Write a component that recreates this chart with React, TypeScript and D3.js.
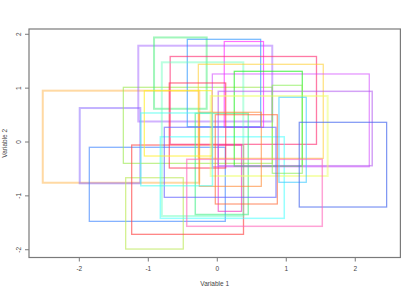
import React from "react";
import * as d3 from "d3";

const rectIds = ["A","B","C","D","E","F","G","H","I","J","K","L","M","N","O","P","Q","R","S","T","U","V","W","X","Y","Z","AA","AB","BB","CC"];
const xLeft =   [-2.530,-1.994,-1.855,-1.328,-1.362,-1.241,-1.145,-0.917,-0.435, 0.101,-0.683,-0.804,-0.826,-0.319, 0.014,-0.275,-0.072, 0.246,-0.696, 0.014,-0.096, 0.797, 0.894, 1.188,-0.029,-0.261,-0.768,-0.443,-1.058,-1.109];
const xRight =  [-0.261,-1.116, 0.116,-0.493, 0.797, 0.380, 0.797,-0.154, 0.629, 0.670, 1.438, 0.377, 0.971, 0.449, 0.351, 1.536, 2.203, 1.232, 0.122, 2.246, 1.600, 1.232, 1.290, 2.455, 0.870, 0.638, 0.851, 1.522,-0.077,-0.070];
const yBottom = [-0.756,-0.767,-1.473,-1.987,-0.396,-1.714, 0.381, 0.617, 0.284, 0.273,-0.043,-1.374,-1.417,-1.346,-1.287,-0.303,-0.459,-0.446,-0.483,-0.440,-0.631,-0.581,-0.748,-1.207,-1.151,-0.823,-1.027,-1.565,-0.260,-0.812];
const yTop =    [ 0.953, 0.631,-0.098,-0.663, 1.016,-0.056, 1.788, 1.941, 1.907, 1.866, 1.588, 1.480, 0.097, 0.533,-0.056, 1.443, 1.263, 1.313, 1.096, 0.941, 0.854, 1.053, 0.830, 0.366, 0.507, 0.552, 0.273,-0.321, 0.953, 0.539];

const strokeColors = ["#FFB347","#8866FF","#4488FF","#BBE855","#99E84C","#FF4444","#9955FF","#44EE77","#3399FF","#FF22FF","#FF3377","#66FFBB","#44FFFF","#44EE88","#EE33BB","#FFCC22","#D044FF","#22EE22","#FF3355","#B055EE","#EEFF66","#88EE55","#44CCFF","#4466EE","#FF6633","#FF8833","#6666FF","#FF66BB","#FFEE22","#44FFEE"];
const strokeOpacity = [0.5,0.5,0.65,0.65,0.65,0.65,0.45,0.5,0.7,0.65,0.65,0.45,0.55,0.6,0.65,0.6,0.6,0.7,0.7,0.55,0.5,0.65,0.65,0.7,0.65,0.65,0.65,0.6,0.7,0.55];
const strokeWidths = [2,2,1.3,1.3,1.2,1.3,2,2,1.2,1.2,1.3,2,1.5,1.5,1.2,1.2,1.2,1.2,1.2,1.5,2,1.2,1.3,1.2,1.2,1.2,1.3,1.5,1.2,1.5];

const xTicks = [-2, -1, 0, 1, 2];
const yTicks = [-2, -1, 0, 1, 2];
const xLabel = "Variable 1";
const yLabel = "Variable 2";

const W = 415, H = 294;
const plot = { left: 29, right: 400.4, top: 29, bottom: 257.5 };

export default function App() {
  const xmin = d3.min(xLeft)!, xmax = d3.max(xRight)!;
  const ymin = d3.min(yBottom)!, ymax = d3.max(yTop)!;
  const xe = (xmax - xmin) * 0.04, ye = (ymax - ymin) * 0.04;
  const x = d3.scaleLinear().domain([xmin - xe, xmax + xe]).range([plot.left, plot.right]);
  const y = d3.scaleLinear().domain([ymin - ye, ymax + ye]).range([plot.bottom, plot.top]);
  const font = "'Liberation Sans', Arial, Helvetica, sans-serif";
  const textColor = "#444";
  const axisColor = "#7a7a7a";
  const cx = (plot.left + plot.right) / 2;
  const cy = (plot.top + plot.bottom) / 2;
  return (
    <svg width={W} height={H} style={{ position: "absolute", left: 0, top: 0, background: "#fff" }}>
      <g>
        {rectIds.map((id, i) => (
          <rect key={id}
            x={x(xLeft[i])} y={y(yTop[i])}
            width={x(xRight[i]) - x(xLeft[i])} height={y(yBottom[i]) - y(yTop[i])}
            fill="none" stroke={strokeColors[i]} strokeOpacity={strokeOpacity[i]} strokeWidth={strokeWidths[i]} />
        ))}
      </g>
      <rect x={plot.left} y={plot.top} width={plot.right - plot.left} height={plot.bottom - plot.top}
        fill="none" stroke={axisColor} strokeWidth={1.2} />
      {xTicks.map(t => (
        <g key={"x" + t}>
          <line x1={x(t)} x2={x(t)} y1={plot.bottom} y2={plot.bottom + 4} stroke={axisColor} strokeWidth={1} />
          <text x={x(t)} y={plot.bottom + 13.5} textAnchor="middle" fontSize={6.5} fontFamily={font} fill={textColor}>{String(t)}</text>
        </g>
      ))}
      {yTicks.map(t => (
        <g key={"y" + t}>
          <line x1={plot.left - 4} x2={plot.left} y1={y(t)} y2={y(t)} stroke={axisColor} strokeWidth={1} />
          <text transform={`translate(${plot.left - 8.5},${y(t)}) rotate(-90)`} textAnchor="middle" fontSize={6.5} fontFamily={font} fill={textColor}>{String(t)}</text>
        </g>
      ))}
      <text x={cx} y={plot.bottom + 28} textAnchor="middle" fontSize={6.5} fontFamily={font} fill={textColor}>{xLabel}</text>
      <text transform={`translate(7,${cy}) rotate(-90)`} textAnchor="middle" fontSize={6.5} fontFamily={font} fill={textColor}>{yLabel}</text>
    </svg>
  );
}
